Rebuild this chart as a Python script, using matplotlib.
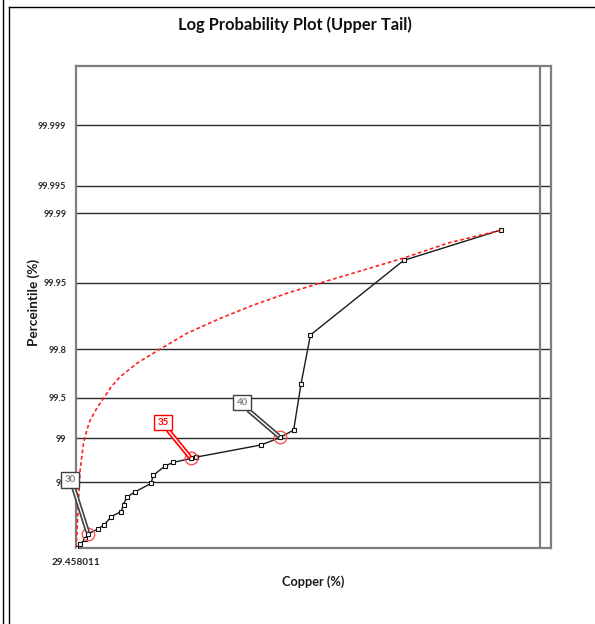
import numpy as np
import matplotlib
matplotlib.use('Agg')
import matplotlib.pyplot as plt
import matplotlib.patheffects as pe
from matplotlib.lines import Line2D
from matplotlib.ticker import NullLocator
from statistics import NormalDist

plt.rcParams['font.family'] = ['Lato', 'DejaVu Sans']

# Copper grades of the upper tail and their percentiles
cu_x = [29.458011, 29.64, 29.87, 30.0, 30.45, 30.74, 31.06, 31.52, 31.63, 31.78,
        32.16, 32.97, 33.06, 33.65, 34.06, 35.0, 35.28, 38.86, 40.0, 40.81,
        41.26, 41.85, 48.12, 55.68]
cu_pct = [95.0, 95.23, 95.55, 95.85, 96.10, 96.33, 96.71, 96.93, 97.22, 97.50,
          97.68, 97.96, 98.19, 98.43, 98.52, 98.61, 98.64, 98.88, 99.01, 99.125,
          99.609, 99.849, 99.9696, 99.9851]

# fitted distribution line
fit_x = [29.458011, 29.52, 29.56, 29.64, 29.79, 29.94, 30.09, 30.40, 30.70, 31.06,
         31.48, 32.28, 33.35, 34.80, 36.59, 38.47, 40.45, 42.31, 48.12, 51.45, 55.68]
fit_pct = [95.0, 96.37, 97.26, 98.33, 98.909, 99.125, 99.262, 99.403, 99.496, 99.593,
           99.661, 99.737, 99.797, 99.8545, 99.893, 99.9192, 99.9372, 99.9487, 99.9712,
           99.9797, 99.9850]

# threshold callouts
thr_x = [30.0, 35.0, 40.0]
thr_pct = [95.85, 98.61, 99.01]
thr_labels = ['30', '35', '40']

y_ticks = [98, 99, 99.5, 99.8, 99.95, 99.99, 99.995, 99.999]
y_labels = ['98', '99', '99.5', '99.8', '99.95', '99.99', '99.995', '99.999']

_nd = NormalDist()


def pct_to_z(p):
    p = np.clip(np.asarray(p, dtype=float) / 100.0, 1e-9, 1 - 1e-9)
    return np.vectorize(_nd.inv_cdf, otypes=[float])(p)


def z_to_pct(z):
    return np.vectorize(_nd.cdf, otypes=[float])(np.asarray(z, dtype=float)) * 100.0


fig = plt.figure(figsize=(5.95, 6.24), dpi=100)
ax = fig.add_axes([76 / 595, 1 - 548 / 624, 475 / 595, 482 / 624])

ax.set_xscale('log')
ax.set_yscale('function', functions=(pct_to_z, z_to_pct))
ax.set_xlim(29.458011, 60)
ax.set_ylim(95.0, 99.99982)

for yv in y_ticks:
    ax.axhline(yv, color='#2a2a2a', lw=1.0, zorder=1)
ax.axvline(59.0, color='#7f7f7f', lw=1.6, zorder=1)

ax.plot(cu_x, cu_pct, color='#1a1a1a', lw=1.0, marker='s', ms=2.2,
        mfc='white', mec='#111111', mew=0.8, zorder=3)
ax.plot(fit_x, fit_pct, color='#ff2020', lw=1.2, ls=(0, (2.2, 1.6)), zorder=4)
ax.plot(thr_x, thr_pct, ls='none', marker='o', ms=9, mfc='none',
        mec='#ff5050', mew=1.0, zorder=5)

# callout boxes with double leader lines
offsets = [(-18, 54), (-28, 36), (-38, 35)]
box_colors = ['#404040', '#ff0000', '#404040']
text_colors = ['#808080', '#ff0000', '#808080']
for xv, pv, lab, off, bc, tc in zip(thr_x, thr_pct, thr_labels, offsets, box_colors, text_colors):
    ax.annotate(lab, xy=(xv, pv), xytext=off, textcoords='offset pixels',
                ha='center', va='center', fontsize=7, fontweight='bold', color=tc,
                bbox=dict(boxstyle='square,pad=0.35', fc='white', ec=bc, lw=1.0),
                arrowprops=dict(arrowstyle='-', color='white', lw=1.0,
                                shrinkA=0, shrinkB=2, relpos=(0.7, 0.0),
                                path_effects=[pe.Stroke(linewidth=3.4, foreground=bc),
                                              pe.Normal()]),
                zorder=6)

ax.set_xticks([29.458011], labels=['29.458011'])
ax.xaxis.set_minor_locator(NullLocator())
ax.set_yticks(y_ticks, labels=y_labels)
ax.yaxis.set_minor_locator(NullLocator())
ax.tick_params(axis='both', length=0, labelsize=6.5, labelcolor='#262626')
ax.tick_params(axis='y', pad=7)
ax.tick_params(axis='x', pad=7, labelsize=7.2)
for lab in ax.get_xticklabels() + ax.get_yticklabels():
    lab.set_fontweight('bold')

for sp in ax.spines.values():
    sp.set_color('#7f7f7f')
    sp.set_linewidth(1.6)

ax.text(0.499, -0.0705, 'Copper (%)', transform=ax.transAxes, ha='center', va='center',
        fontsize=9.2, fontweight='bold', color='#1a1a1a')
ax.text(-0.09, 0.51, 'Perceintile (%)', transform=ax.transAxes, ha='center', va='center',
        rotation=90, fontsize=9.8, fontweight='bold', color='#1a1a1a')

fig.text(295 / 595, 1 - 25 / 624, 'Log Probability Plot (Upper Tail)',
         ha='center', va='center', fontsize=11.9, fontweight='bold', color='#111111')

# outer chart frame
fig.add_artist(Line2D([3 / 595, 3 / 595], [0, 1], transform=fig.transFigure,
                      color='black', lw=1.0))
fig.add_artist(Line2D([9 / 595, 9 / 595], [0, 1 - 7 / 624], transform=fig.transFigure,
                      color='black', lw=1.0))
fig.add_artist(Line2D([9 / 595, 1], [1 - 7 / 624, 1 - 7 / 624], transform=fig.transFigure,
                      color='black', lw=1.0))

fig.savefig('out.png', dpi=100)
